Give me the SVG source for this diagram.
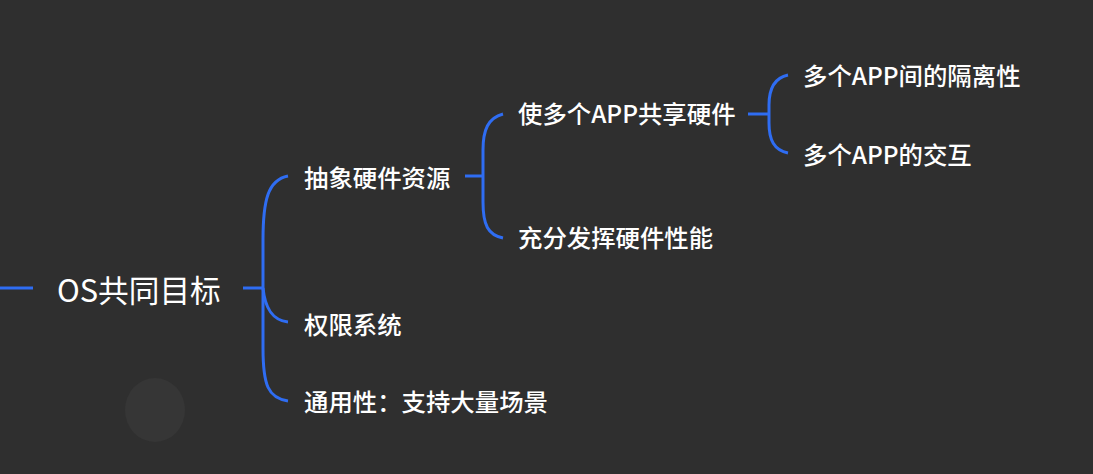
<svg xmlns="http://www.w3.org/2000/svg" width="1093" height="474" viewBox="0 0 1093 474">
<style>
.t{font-family:"Noto Sans CJK SC","Noto Sans",sans-serif;fill:#ffffff;font-size:24.4px;font-weight:500}
.r{font-size:30.7px;font-weight:400}
.c{fill:none;stroke:#2f6df2;stroke-width:3;stroke-linecap:butt}
</style>
<rect width="1093" height="474" fill="#2f2f2f"/>
<ellipse cx="155" cy="410" rx="30" ry="32" fill="#363636"/>
<g id="connectors">
<path class="c" d="M0 288 H33"/>
<path class="c" d="M243 288 H263"/>
<path class="c" d="M288 176 C268 180 263 200 263 240 V348 C263 385 268 398 288 401"/>
<path class="c" d="M263 288 C265 308 272 320 288 322"/>
<path class="c" d="M465 176 H483"/>
<path class="c" d="M503 114 C488 118 483 130 483 150 V202 C483 225 488 235 503 238"/>
<path class="c" d="M748 114 H768"/>
<path class="c" d="M788 75 C774 78 769 90 769 105 V123 C769 140 774 150 788 153"/>
</g>
<g id="root"><text class="t r" x="57" y="302">OS共同目标</text></g>
<g id="n1"><text class="t" x="304" y="187">抽象硬件资源</text></g>
<g id="n2"><text class="t" x="304" y="334">权限系统</text></g>
<g id="n3"><text class="t" x="304" y="411">通用性：支持大量场景</text></g>
<g id="n11"><text class="t" x="518" y="123">使多个APP共享硬件</text></g>
<g id="n12"><text class="t" x="518" y="247">充分发挥硬件性能</text></g>
<g id="n111"><text class="t" x="803" y="85">多个APP间的隔离性</text></g>
<g id="n112"><text class="t" x="803" y="164">多个APP的交互</text></g>
</svg>
